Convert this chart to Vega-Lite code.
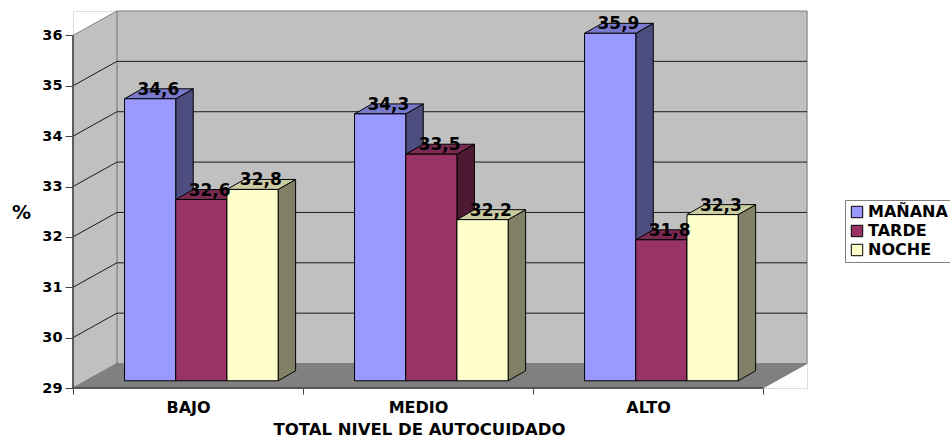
{
  "$schema": "https://vega.github.io/schema/vega-lite/v6.json",
  "width": 734,
  "height": 377,
  "autosize": "none",
  "padding": {"left": 73, "top": 11, "right": 143, "bottom": 49},
  "background": "white",
  "datasets": {
    "medidas": [
      {"grupo": "BAJO", "turno": "MAÑANA", "valor": 34.6},
      {"grupo": "BAJO", "turno": "TARDE", "valor": 32.6},
      {"grupo": "BAJO", "turno": "NOCHE", "valor": 32.8},
      {"grupo": "MEDIO", "turno": "MAÑANA", "valor": 34.3},
      {"grupo": "MEDIO", "turno": "TARDE", "valor": 33.5},
      {"grupo": "MEDIO", "turno": "NOCHE", "valor": 32.2},
      {"grupo": "ALTO", "turno": "MAÑANA", "valor": 35.9},
      {"grupo": "ALTO", "turno": "TARDE", "valor": 31.8},
      {"grupo": "ALTO", "turno": "NOCHE", "valor": 32.3}
    ],
    "profundidad": [{"paso": 0}, {"paso": 1}],
    "niveles": [{"nivel": 30}, {"nivel": 31}, {"nivel": 32}, {"nivel": 33}, {"nivel": 34}, {"nivel": 35}]
  },
  "layer": [
    {
      "description": "Back wall of the 3D box",
      "data": {"values": [{"muro": "fondo"}]},
      "transform": [
        {"calculate": "0.191", "as": "x0"},
        {"calculate": "3.191", "as": "x1"},
        {"calculate": "29.486", "as": "y0"},
        {"calculate": "36.486", "as": "y1"}
      ],
      "mark": {"type": "rect", "fill": "#C0C0C0", "stroke": "#808080", "strokeWidth": 1},
      "encoding": {
        "x": {
          "field": "x0", "type": "quantitative",
          "scale": {"domain": [0, 3.191], "nice": false, "zero": false},
          "axis": {
            "values": [0, 0.5, 1, 1.5, 2, 2.5, 3],
            "domain": false, "grid": false,
            "labelExpr": "datum.value === 0.5 ? 'BAJO' : datum.value === 1.5 ? 'MEDIO' : datum.value === 2.5 ? 'ALTO' : ''",
            "labelFont": "DejaVu Sans", "labelFontWeight": "bold", "labelFontSize": 16, "labelColor": "black",
            "labelOverlap": false, "labelFlush": false, "labelPadding": 5, "labelAngle": 0,
            "tickSize": 6, "tickColor": "#404040",
            "tickOpacity": {"condition": {"test": "datum.value % 1 === 0", "value": 1}, "value": 0},
            "title": "TOTAL NIVEL DE AUTOCUIDADO",
            "titleFont": "DejaVu Sans", "titleFontWeight": "bold", "titleFontSize": 16.5, "titleColor": "black",
            "titleX": 346, "titleY": 41, "titleAnchor": "middle", "titleBaseline": "middle"
          }
        },
        "x2": {"field": "x1"},
        "y": {
          "field": "y0", "type": "quantitative",
          "scale": {"domain": [29, 36.486], "nice": false, "zero": false},
          "axis": {
            "values": [29, 30, 31, 32, 33, 34, 35, 36],
            "domain": false, "grid": false,
            "labelFont": "DejaVu Sans", "labelFontWeight": "bold", "labelFontSize": 14.5, "labelColor": "black", "labelPadding": 3,
            "tickSize": 8, "tickColor": "#404040",
            "title": "%", "titleAngle": 0,
            "titleFont": "DejaVu Sans", "titleFontWeight": "bold", "titleFontSize": 19, "titleColor": "black",
            "titleX": -52, "titleY": 201, "titleAlign": "center", "titleBaseline": "middle"
          }
        },
        "y2": {"field": "y1"}
      }
    },
    {
      "description": "Left wall",
      "data": {"name": "profundidad"},
      "transform": [
        {"calculate": "datum.paso * 0.191", "as": "xp"},
        {"calculate": "29 + datum.paso * 0.486", "as": "y0"},
        {"calculate": "36 + datum.paso * 0.486", "as": "y1"}
      ],
      "mark": {"type": "area", "fill": "#C0C0C0", "stroke": "#808080", "strokeWidth": 1},
      "encoding": {
        "x": {"field": "xp", "type": "quantitative"},
        "y": {"field": "y0", "type": "quantitative"},
        "y2": {"field": "y1"}
      }
    },
    {
      "description": "Floor",
      "data": {"name": "profundidad"},
      "transform": [
        {"calculate": "datum.paso * 0.191", "as": "x0"},
        {"calculate": "3 + datum.paso * 0.191", "as": "x1"},
        {"calculate": "29 + datum.paso * 0.486", "as": "yp"}
      ],
      "mark": {"type": "area", "orient": "horizontal", "fill": "#808080", "stroke": "#808080", "strokeWidth": 1},
      "encoding": {
        "y": {"field": "yp", "type": "quantitative"},
        "x": {"field": "x0", "type": "quantitative"},
        "x2": {"field": "x1"}
      }
    },
    {
      "description": "Gridlines on the back wall",
      "data": {"name": "niveles"},
      "transform": [
        {"calculate": "datum.nivel + 0.486", "as": "yp"},
        {"calculate": "0.191", "as": "x0"},
        {"calculate": "3.191", "as": "x1"}
      ],
      "mark": {"type": "rule", "stroke": "#1A1A1A", "strokeWidth": 1},
      "encoding": {
        "y": {"field": "yp", "type": "quantitative"},
        "x": {"field": "x0", "type": "quantitative"},
        "x2": {"field": "x1"}
      }
    },
    {
      "description": "Gridlines slanting across the left wall",
      "data": {"name": "niveles"},
      "transform": [
        {"calculate": "[0, 1]", "as": "paso"},
        {"flatten": ["paso"]},
        {"calculate": "datum.nivel + datum.paso * 0.486", "as": "yp"},
        {"calculate": "datum.paso * 0.191", "as": "xp"}
      ],
      "mark": {"type": "line", "stroke": "#1A1A1A", "strokeWidth": 1},
      "encoding": {
        "x": {"field": "xp", "type": "quantitative"},
        "y": {"field": "yp", "type": "quantitative"},
        "detail": {"field": "nivel", "type": "nominal"}
      }
    },
    {
      "description": "Value axis line",
      "data": {"values": [{"eje": "valor"}]},
      "transform": [
        {"calculate": "0", "as": "x0"},
        {"calculate": "29", "as": "y0"},
        {"calculate": "36", "as": "y1"}
      ],
      "mark": {"type": "rule", "stroke": "#404040", "strokeWidth": 1.5},
      "encoding": {
        "x": {"field": "x0", "type": "quantitative"},
        "y": {"field": "y0", "type": "quantitative"},
        "y2": {"field": "y1"}
      }
    },
    {
      "description": "Category axis line",
      "data": {"values": [{"eje": "categoria"}]},
      "transform": [
        {"calculate": "29", "as": "y0"},
        {"calculate": "0", "as": "x0"},
        {"calculate": "3", "as": "x1"}
      ],
      "mark": {"type": "rule", "stroke": "#404040", "strokeWidth": 1.5},
      "encoding": {
        "y": {"field": "y0", "type": "quantitative"},
        "x": {"field": "x0", "type": "quantitative"},
        "x2": {"field": "x1"}
      }
    },
    {
      "description": "Oblique bars: right sides, tops, fronts and value labels",
      "data": {"name": "medidas"},
      "transform": [
        {"calculate": "indexof(['BAJO','MEDIO','ALTO'], datum.grupo) + 0.224 + indexof(['MAÑANA','TARDE','NOCHE'], datum.turno) * 0.2226", "as": "izq"},
        {"calculate": "datum.izq + 0.2226", "as": "der"},
        {"calculate": "datum.valor + 0.143", "as": "techo"},
        {"calculate": "29.143", "as": "base"},
        {"calculate": "replace(format(datum.valor, '.1f'), '.', ',')", "as": "etiqueta"},
        {"calculate": "(datum.izq + datum.der) / 2 + 0.036", "as": "medio"}
      ],
      "layer": [
        {
          "transform": [
            {"calculate": "[0, 1]", "as": "paso"},
            {"flatten": ["paso"]},
            {"calculate": "datum.der + datum.paso * 0.076", "as": "xs"},
            {"calculate": "29.143 + datum.paso * 0.198", "as": "ys0"},
            {"calculate": "datum.techo + datum.paso * 0.198", "as": "ys1"},
            {"calculate": "datum.grupo + datum.turno", "as": "barra"}
          ],
          "mark": {"type": "area", "stroke": "black", "strokeWidth": 1},
          "encoding": {
            "x": {"field": "xs", "type": "quantitative"},
            "y": {"field": "ys0", "type": "quantitative"},
            "y2": {"field": "ys1"},
            "detail": {"field": "barra", "type": "nominal"},
            "fill": {
              "field": "turno", "type": "nominal", "legend": null,
              "scale": {"domain": ["MAÑANA", "TARDE", "NOCHE"], "range": ["#4D4D80", "#4D1A33", "#808066"]}
            }
          }
        },
        {
          "transform": [
            {"calculate": "[0, 1]", "as": "paso"},
            {"flatten": ["paso"]},
            {"calculate": "datum.izq + datum.paso * 0.076", "as": "xt0"},
            {"calculate": "datum.der + datum.paso * 0.076", "as": "xt1"},
            {"calculate": "datum.techo + datum.paso * 0.198", "as": "yt"},
            {"calculate": "datum.grupo + datum.turno", "as": "barra"}
          ],
          "mark": {"type": "area", "orient": "horizontal", "stroke": "black", "strokeWidth": 1},
          "encoding": {
            "y": {"field": "yt", "type": "quantitative"},
            "x": {"field": "xt0", "type": "quantitative"},
            "x2": {"field": "xt1"},
            "detail": {"field": "barra", "type": "nominal"},
            "fill": {
              "field": "turno", "type": "nominal", "legend": null,
              "scale": {"domain": ["MAÑANA", "TARDE", "NOCHE"], "range": ["#7A7ACC", "#7A2952", "#CCCCA3"]}
            }
          }
        },
        {
          "mark": {"type": "rect", "stroke": "black", "strokeWidth": 1},
          "encoding": {
            "x": {"field": "izq", "type": "quantitative"},
            "x2": {"field": "der"},
            "y": {"field": "base", "type": "quantitative"},
            "y2": {"field": "techo"},
            "fill": {
              "field": "turno", "type": "nominal",
              "scale": {"domain": ["MAÑANA", "TARDE", "NOCHE"], "range": ["#9999FF", "#993366", "#FFFFCC"]},
              "legend": {
                "title": null, "orient": "none", "legendX": 772, "legendY": 189,
                "symbolType": "square", "symbolSize": 130, "symbolStrokeColor": "black", "symbolStrokeWidth": 1,
                "labelFont": "DejaVu Sans", "labelFontWeight": "bold", "labelFontSize": 16, "labelColor": "black",
                "strokeColor": "#808080", "fillColor": "white", "padding": 4, "rowPadding": 3,
                "labelOffset": 3
              }
            }
          }
        },
        {
          "mark": {"type": "text", "font": "DejaVu Sans", "fontWeight": "bold", "fontSize": 17, "color": "black", "dy": -9, "baseline": "middle", "align": "center"},
          "encoding": {
            "x": {"field": "medio", "type": "quantitative"},
            "y": {"field": "techo", "type": "quantitative"},
            "text": {"field": "etiqueta", "type": "nominal"}
          }
        }
      ],
      "resolve": {"scale": {"fill": "independent"}}
    }
  ]
}
